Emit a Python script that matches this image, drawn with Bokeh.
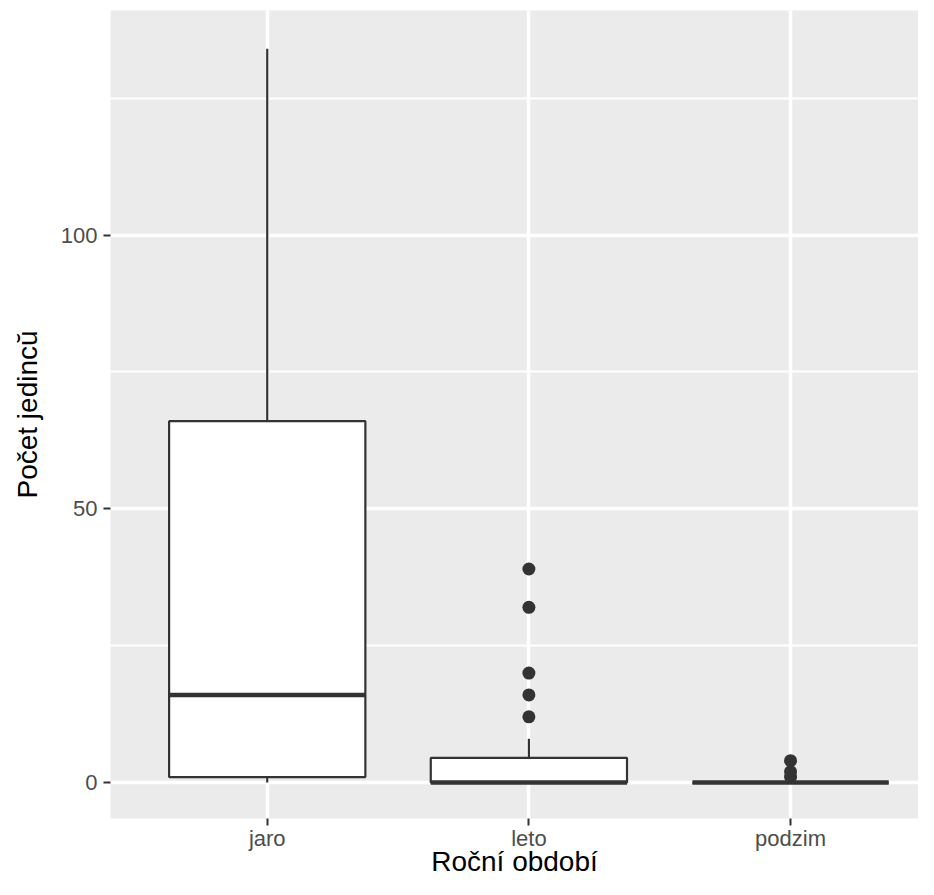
from bokeh.plotting import figure
from bokeh.models import Range1d, FixedTicker, ColumnDataSource
from bokeh.embed import file_html
from bokeh.resources import INLINE

# ---- data ----
categories = ["jaro", "leto", "podzim"]
whisker_low = [0, 0, 0]
q1 = [1, 0, 0]
median = [16, 0, 0]
q3 = [66, 4.5, 0]
whisker_high = [134, 8, 0]

outlier_cat = ["leto", "leto", "leto", "leto", "leto", "podzim", "podzim", "podzim"]
outlier_val = [12, 16, 20, 32, 39, 1, 2, 4]

y_ticks = [0, 50, 100]
y_minor = [25, 75, 125]

x_title = "Roční období"
y_title = "Počet jedincŭ"

# ---- derived ----
pos = [i + 1 for i in range(len(categories))]
half = 0.375
box_src = ColumnDataSource(dict(
    x=pos,
    left=[p - half for p in pos],
    right=[p + half for p in pos],
    wl=whisker_low, q1=q1, med=median, q3=q3, wh=whisker_high,
))
out_src = ColumnDataSource(dict(
    x=[categories.index(c) + 1 for c in outlier_cat],
    y=outlier_val,
))

FONT = "Liberation Sans"
DARK = "#333333"

p = figure(width=918, height=879,
           x_range=Range1d(0.401, 3.489), y_range=Range1d(-6.56, 141.0),
           output_backend="svg", toolbar_location=None,
           min_border_left=110, min_border_right=0,
           min_border_top=10, min_border_bottom=59)

p.background_fill_color = "#EBEBEB"
p.border_fill_color = "white"
p.outline_line_color = None

# grid
p.xgrid.ticker = FixedTicker(ticks=pos)
p.xgrid.grid_line_color = "white"
p.xgrid.grid_line_width = 3.5
p.ygrid.ticker = FixedTicker(ticks=y_ticks, minor_ticks=y_minor)
p.ygrid.grid_line_color = "white"
p.ygrid.grid_line_width = 3.5
p.ygrid.minor_grid_line_color = "white"
p.ygrid.minor_grid_line_width = 1.8

# whiskers
p.segment(x0="x", y0="q3", x1="x", y1="wh", source=box_src, line_color=DARK, line_width=2.2)
p.segment(x0="x", y0="wl", x1="x", y1="q1", source=box_src, line_color=DARK, line_width=2.2)
# boxes
p.quad(left="left", right="right", bottom="q1", top="q3", source=box_src,
       fill_color="white", line_color=DARK, line_width=2.2)
# medians
p.segment(x0="left", y0="med", x1="right", y1="med", source=box_src, line_color=DARK, line_width=4.5)
# outliers
p.scatter(x="x", y="y", source=out_src, size=13, fill_color=DARK, line_color=None)

# axes
xa = p.xaxis[0]
xa.ticker = FixedTicker(ticks=pos)
xa.major_label_overrides = {pp: c for pp, c in zip(pos, categories)}
ya = p.yaxis[0]
ya.ticker = FixedTicker(ticks=y_ticks)

for ax in (xa, ya):
    ax.axis_line_color = None
    ax.major_tick_line_color = DARK
    ax.major_tick_line_width = 2
    ax.major_tick_out = 7
    ax.major_tick_in = 0
    ax.minor_tick_out = 0
    ax.minor_tick_in = 0
    ax.major_label_text_font = FONT
    ax.major_label_text_font_size = "22px"
    ax.major_label_text_color = "#4D4D4D"
    ax.axis_label_text_font = FONT
    ax.axis_label_text_font_size = "28px"
    ax.axis_label_text_font_style = "normal"
    ax.axis_label_text_color = "black"

xa.major_label_standoff = 0
ya.major_label_standoff = 6

xa.axis_label = x_title
xa.axis_label_standoff = -8
ya.axis_label = y_title
ya.axis_label_standoff = 15

open("out.html", "w").write(file_html(p, INLINE))
